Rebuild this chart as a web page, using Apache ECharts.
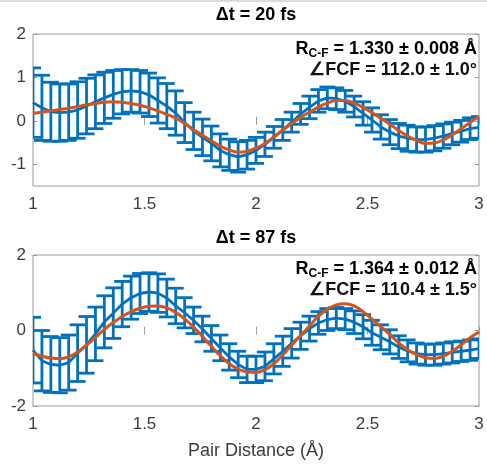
<!DOCTYPE html>
<html><head><meta charset="utf-8">
<script src="https://cdn.jsdelivr.net/npm/echarts@6/dist/echarts.min.js"></script>
<style>html,body{margin:0;padding:0;background:#fff}#c{width:487px;height:465px}</style>
</head><body><div id="c"></div>
<script>
// ---- data ----
const xValues = [1.00,1.04,1.08,1.12,1.16,1.20,1.24,1.28,1.32,1.36,1.40,1.44,1.48,1.52,1.56,1.60,1.64,1.68,1.72,1.76,1.80,1.84,1.88,1.92,1.96,2.00,2.04,2.08,2.12,2.16,2.20,2.24,2.28,2.32,2.36,2.40,2.44,2.48,2.52,2.56,2.60,2.64,2.68,2.72,2.76,2.80,2.84,2.88,2.92,2.96,3.00];
const meanTop = [0.42,0.30,0.21,0.19,0.20,0.25,0.34,0.44,0.53,0.61,0.67,0.69,0.67,0.60,0.47,0.34,0.18,-0.04,-0.23,-0.38,-0.52,-0.68,-0.78,-0.83,-0.78,-0.68,-0.54,-0.38,-0.21,-0.03,0.16,0.31,0.46,0.53,0.51,0.45,0.33,0.17,0.02,-0.14,-0.26,-0.35,-0.40,-0.43,-0.43,-0.40,-0.35,-0.29,-0.24,-0.18,-0.15];
const errTop = [0.80,0.75,0.68,0.66,0.65,0.65,0.64,0.62,0.59,0.55,0.51,0.49,0.49,0.50,0.52,0.52,0.51,0.46,0.43,0.42,0.40,0.38,0.36,0.35,0.33,0.30,0.28,0.25,0.24,0.23,0.24,0.26,0.26,0.25,0.25,0.25,0.24,0.27,0.28,0.28,0.29,0.29,0.30,0.29,0.29,0.29,0.28,0.26,0.25,0.25,0.25];
const fitTop = [0.17,0.20,0.23,0.26,0.29,0.33,0.37,0.40,0.43,0.44,0.43,0.40,0.36,0.30,0.23,0.15,0.06,-0.06,-0.20,-0.33,-0.46,-0.58,-0.67,-0.72,-0.70,-0.63,-0.52,-0.37,-0.21,-0.06,0.08,0.20,0.32,0.41,0.47,0.47,0.41,0.31,0.19,0.06,-0.08,-0.22,-0.35,-0.45,-0.52,-0.51,-0.44,-0.32,-0.18,-0.04,0.11];
const meanBot = [-0.52,-0.80,-0.90,-0.92,-0.85,-0.60,-0.38,-0.09,0.23,0.46,0.70,0.87,0.98,1.02,0.99,0.86,0.65,0.47,0.27,0.04,-0.21,-0.46,-0.70,-0.90,-1.03,-1.03,-0.95,-0.75,-0.55,-0.34,-0.14,0.05,0.20,0.29,0.33,0.30,0.22,0.10,-0.06,-0.18,-0.30,-0.44,-0.54,-0.61,-0.64,-0.64,-0.61,-0.58,-0.55,-0.52,-0.48];
const errBot = [0.87,0.80,0.74,0.73,0.73,0.75,0.75,0.71,0.69,0.67,0.60,0.57,0.53,0.51,0.51,0.50,0.47,0.40,0.35,0.34,0.34,0.34,0.35,0.35,0.35,0.35,0.38,0.40,0.40,0.39,0.36,0.33,0.30,0.29,0.28,0.28,0.30,0.32,0.33,0.33,0.32,0.30,0.29,0.28,0.28,0.28,0.28,0.28,0.27,0.27,0.26];
const fitBot = [-0.61,-0.68,-0.73,-0.75,-0.70,-0.57,-0.39,-0.18,0.03,0.21,0.37,0.50,0.59,0.64,0.65,0.60,0.48,0.31,0.09,-0.16,-0.42,-0.67,-0.88,-1.02,-1.10,-1.11,-1.04,-0.88,-0.65,-0.39,-0.13,0.12,0.38,0.56,0.68,0.71,0.65,0.50,0.30,0.10,-0.10,-0.33,-0.51,-0.64,-0.72,-0.74,-0.68,-0.55,-0.38,-0.19,-0.04];
const xTicks = [1, 1.5, 2, 2.5, 3];
const yTicksTop = [-1, 0, 1, 2];
const yTicksBot = [-2, 0, 2];
const titles = ['Δt = 20 fs', 'Δt = 87 fs'];
const rcfText = ['1.330 ± 0.008 Å', '1.364 ± 0.012 Å'];
const fcfText = ['112.0 ± 1.0°', '110.4 ± 1.5°'];
const xAxisName = 'Pair Distance (Å)';

// ---- styles ----
const BLUE = '#0072BD', ORANGE = '#D95319', BOX = '#9a9a9a', LBL = '#3c3c3c';
const FONT = '"Liberation Sans", Arial, sans-serif';

function errRender(params, api) {
  const x = api.value(0), lo = api.value(1), hi = api.value(2);
  const a = api.coord([x, hi]), b = api.coord([x, lo]);
  const hw = 8;
  const st = { stroke: BLUE, lineWidth: 2.8, fill: null };
  return { type: 'group', children: [
    { type: 'line', shape: { x1: a[0], y1: a[1], x2: b[0], y2: b[1] }, style: st },
    { type: 'line', shape: { x1: a[0] - hw, y1: a[1], x2: a[0] + hw, y2: a[1] }, style: st },
    { type: 'line', shape: { x1: b[0] - hw, y1: b[1], x2: b[0] + hw, y2: b[1] }, style: st }
  ]};
}

const grids = [
  { left: 33, top: 34, width: 446, height: 152 },
  { left: 33, top: 255, width: 446, height: 151 }
];
const yRanges = [[-1.5, 2], [-2, 2]];
const yTicks = [yTicksTop, yTicksBot];
const means = [meanTop, meanBot], errs = [errTop, errBot], fits = [fitTop, fitBot];

const xAxes = [], yAxes = [], series = [];
grids.forEach((g, i) => {
  g.show = true; g.borderColor = BOX; g.borderWidth = 1; g.backgroundColor = '#fff';
  xAxes.push({ type: 'value', gridIndex: i, min: 1, max: 3, interval: 0.5, position: 'bottom',
    axisLine: { show: false }, splitLine: { show: false },
    axisTick: { show: true, inside: true, length: 4, lineStyle: { color: BOX } },
    axisLabel: { show: true, color: LBL, fontSize: 17, fontFamily: FONT, margin: 10,
      showMinLabel: true, showMaxLabel: true, formatter: v => String(v) } });
  xAxes.push({ type: 'value', gridIndex: i, min: 1, max: 3, interval: 0.5, position: 'top',
    axisLine: { show: false }, splitLine: { show: false },
    axisTick: { show: true, inside: true, length: 4, lineStyle: { color: BOX } },
    axisLabel: { show: false } });
  const yt = yTicks[i];
  yAxes.push({ type: 'value', gridIndex: i, min: yRanges[i][0], max: yRanges[i][1], position: 'left',
    axisLine: { show: false }, splitLine: { show: false },
    axisTick: { show: true, inside: true, length: 4, lineStyle: { color: BOX }, customValues: yt },
    axisLabel: { show: true, color: LBL, fontSize: 17, fontFamily: FONT, margin: 7, customValues: yt,
      formatter: v => String(v) } });
  yAxes.push({ type: 'value', gridIndex: i, min: yRanges[i][0], max: yRanges[i][1], position: 'right',
    axisLine: { show: false }, splitLine: { show: false },
    axisTick: { show: true, inside: true, length: 4, lineStyle: { color: BOX }, customValues: yt },
    axisLabel: { show: false, customValues: yt } });
  const errData = xValues.map((x, k) => [x, means[i][k] - errs[i][k], means[i][k] + errs[i][k]]);
  series.push({ type: 'custom', xAxisIndex: 2 * i, yAxisIndex: 2 * i, renderItem: errRender,
    data: errData, clip: true, encode: { x: 0, y: [1, 2] }, z: 2 });
  series.push({ type: 'line', xAxisIndex: 2 * i, yAxisIndex: 2 * i, showSymbol: false, symbol: 'none',
    data: xValues.map((x, k) => [x, means[i][k]]), lineStyle: { color: BLUE, width: 2.8 }, z: 3 });
  series.push({ type: 'line', xAxisIndex: 2 * i, yAxisIndex: 2 * i, showSymbol: false, symbol: 'none', smooth: 0.4,
    data: xValues.map((x, k) => [x, fits[i][k]]), lineStyle: { color: ORANGE, width: 3 }, z: 4 });
});

const rich = {
  b: { fontSize: 18, fontWeight: 'bold', fontFamily: FONT, color: '#111', lineHeight: 22, verticalAlign: 'middle' },
  s: { fontSize: 12, fontWeight: 'bold', fontFamily: FONT, color: '#111', lineHeight: 22, verticalAlign: 'bottom' }
};
const graphics = [{ type: 'line', shape: { x1: 0, y1: 1, x2: 487, y2: 1 }, style: { stroke: '#d0d0d0', lineWidth: 1.5 } }];
const titleY = [15, 238], annY = [49, 269];
[0, 1].forEach(i => {
  graphics.push({ type: 'text', x: 256, y: titleY[i], z: 10,
    style: { text: titles[i], align: 'center', verticalAlign: 'middle', fontSize: 18, fontWeight: 'bold', fontFamily: FONT, fill: '#000' } });
  graphics.push({ type: 'text', x: 477, y: annY[i], z: 10,
    style: { text: '{b|R}{s|C-F}{b| = ' + rcfText[i] + '}', align: 'right', verticalAlign: 'middle', rich } });
  graphics.push({ type: 'text', x: 477, y: annY[i] + 21, z: 10,
    style: { text: '∠FCF = ' + fcfText[i], align: 'right', verticalAlign: 'middle', fontSize: 18, fontWeight: 'bold', fontFamily: FONT, fill: '#111' } });
});
graphics.push({ type: 'text', x: 256, y: 451, z: 10,
  style: { text: xAxisName, align: 'center', verticalAlign: 'middle', fontSize: 18, fontFamily: FONT, fill: LBL } });

const chart = echarts.init(document.getElementById('c'), null, { renderer: 'canvas' });
chart.setOption({
  animation: false, backgroundColor: '#fff',
  grid: grids, xAxis: xAxes, yAxis: yAxes, series, graphic: graphics
});
</script></body></html>
